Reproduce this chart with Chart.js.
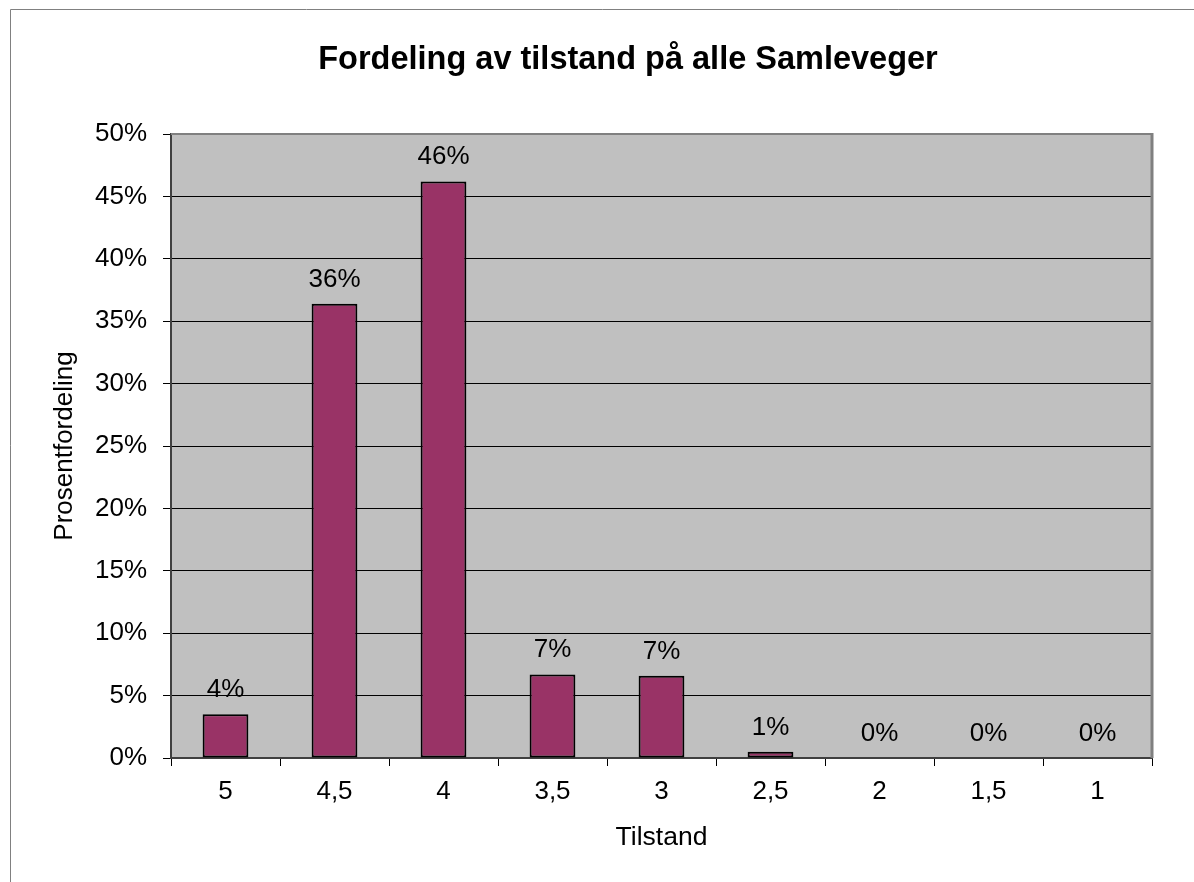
<!DOCTYPE html>
<html lang="no">
<head>
    <meta charset="UTF-8">
    <title>Fordeling av tilstand på alle Samleveger</title>
    <script src="https://cdn.jsdelivr.net/npm/chart.js"></script>
    <style>
        body { margin: 0; background: #fff; }
        #wrap { width: 1194px; height: 882px; }
    </style>
</head>
<body>
    <div id="wrap"><canvas id="chart" width="1194" height="882"></canvas></div>

    <script>
        // data
        const categories = ['5', '4,5', '4', '3,5', '3', '2,5', '2', '1,5', '1'];
        const shares = [3.5, 36.4, 46.2, 6.7, 6.6, 0.5, 0, 0, 0]; // percent
        const yTicks = [0, 5, 10, 15, 20, 25, 30, 35, 40, 45, 50];

        const FONT = '"Liberation Sans", Arial, sans-serif';

        // grey plot area, its grey top/right edge and the outer frame
        const backdrop = {
            id: 'backdrop',
            // title is centred with a left padding of 104; stretch the y scale back to x=0
            afterLayout(chart) {
                const y = chart.scales.y;
                y.left = 0;
                y.width = y.right;
            },
            beforeDraw(chart) {
                const { ctx, chartArea: a } = chart;
                ctx.save();
                ctx.strokeStyle = '#808080';
                ctx.lineWidth = 1;
                ctx.beginPath();
                ctx.moveTo(10.5, chart.height);
                ctx.lineTo(10.5, 9.5);
                ctx.lineTo(chart.width, 9.5);
                ctx.stroke();
                ctx.fillStyle = '#c0c0c0';
                ctx.fillRect(a.left, a.top, a.right - a.left, a.bottom - a.top);
                ctx.restore();
            },
            afterDatasetsDraw(chart) {
                const { ctx, chartArea: a } = chart;
                ctx.save();
                ctx.strokeStyle = '#808080';
                ctx.lineWidth = 2;
                ctx.beginPath();
                ctx.moveTo(a.left, a.top);
                ctx.lineTo(a.right, a.top);
                ctx.stroke();
                ctx.lineWidth = 3;
                ctx.beginPath();
                ctx.moveTo(a.right, a.top - 1);
                ctx.lineTo(a.right, a.bottom);
                ctx.stroke();
                ctx.restore();
            }
        };

        // percent labels above each bar
        const barLabels = {
            id: 'barLabels',
            afterDatasetsDraw(chart) {
                const { ctx } = chart;
                const meta = chart.getDatasetMeta(0);
                ctx.save();
                ctx.font = '26px ' + FONT;
                ctx.fillStyle = '#000';
                ctx.textAlign = 'center';
                ctx.textBaseline = 'alphabetic';
                meta.data.forEach((bar, i) => {
                    ctx.fillText(Math.round(shares[i]) + '%', bar.x, bar.y - 17);
                });
                ctx.restore();
            }
        };

        new Chart(document.getElementById('chart'), {
            type: 'bar',
            data: {
                labels: categories,
                datasets: [{
                    data: shares,
                    backgroundColor: '#993366',
                    borderColor: '#000',
                    borderWidth: 2,
                    borderSkipped: false,
                    categoryPercentage: 1,
                    barPercentage: 0.42
                }]
            },
            options: {
                responsive: false,
                animation: false,
                layout: { padding: { left: 104, top: 0, right: 42, bottom: 0 } },
                plugins: {
                    legend: { display: false },
                    tooltip: { enabled: false },
                    title: {
                        display: true,
                        text: 'Fordeling av tilstand på alle Samleveger',
                        color: '#000',
                        font: { family: FONT, size: 32.5, weight: 'bold' },
                        padding: { top: 40.5, bottom: 54.5 }
                    }
                },
                scales: {
                    x: {
                        afterFit(s) { s.height = 124; },
                        grid: {
                            offset: true,
                            drawOnChartArea: false,
                            tickLength: 8,
                            tickColor: '#000',
                            tickWidth: 1
                        },
                        border: { color: '#404040', width: 2 },
                        ticks: {
                            color: '#000',
                            padding: 10,
                            font: { family: FONT, size: 26 }
                        },
                        title: {
                            display: true,
                            text: 'Tilstand',
                            color: '#000',
                            font: { family: FONT, size: 26.5 },
                            padding: { bottom: 28 }
                        }
                    },
                    y: {
                        min: 0,
                        max: 50,
                        afterFit(s) { s.width = 67; },
                        afterBuildTicks(s) { s.ticks = yTicks.map(v => ({ value: v })); },
                        grid: {
                            color: ctx => (ctx.tick && (ctx.tick.value === 0 || ctx.tick.value === 50)) ? 'rgba(0,0,0,0)' : '#000',
                            lineWidth: 1,
                            borderDash: [1, 1],
                            tickLength: 8,
                            tickColor: '#000',
                            tickWidth: 1,
                            tickBorderDash: []
                        },
                        border: { color: '#404040', width: 2 },
                        ticks: {
                            color: '#000',
                            padding: 16,
                            font: { family: FONT, size: 26 },
                            callback: v => v + '%'
                        },
                        title: {
                            display: true,
                            text: 'Prosentfordeling',
                            color: '#000',
                            font: { family: FONT, size: 26 },
                            padding: { top: 49 }
                        }
                    }
                }
            },
            plugins: [backdrop, barLabels]
        });
    </script>
</body>
</html>
